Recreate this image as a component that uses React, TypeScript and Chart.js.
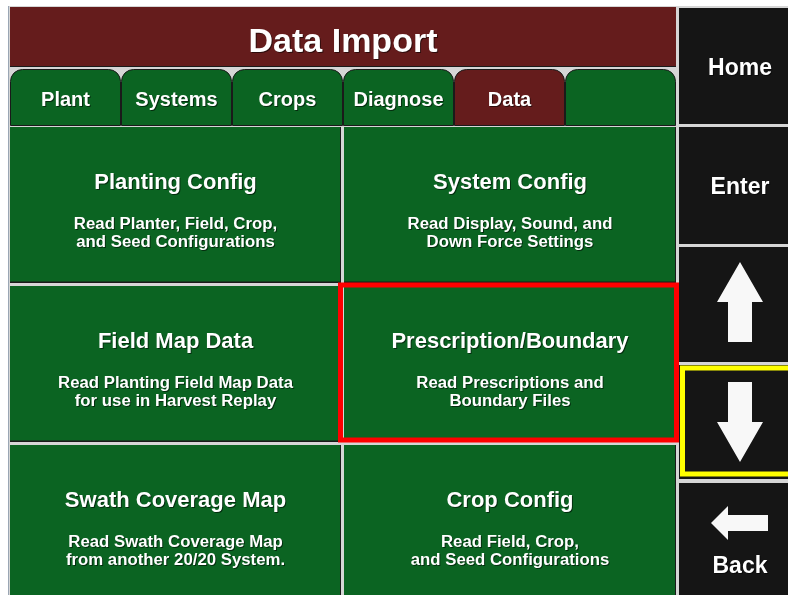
import React, { useEffect, useRef } from "react";
import { Chart, registerables } from "chart.js";

Chart.register(...registerables);

// ---- content ----
const TITLE = "Data Import";
const TABS = ["Plant", "Systems", "Crops", "Diagnose", "Data", ""];
const ACTIVE_TAB = 4;
const TILE_TITLES = [
  "Planting Config",
  "System Config",
  "Field Map Data",
  "Prescription/Boundary",
  "Swath Coverage Map",
  "Crop Config",
];
const TILE_LINE1 = [
  "Read Planter, Field, Crop,",
  "Read Display, Sound, and",
  "Read Planting Field Map Data",
  "Read Prescriptions and",
  "Read Swath Coverage Map",
  "Read Field, Crop,",
];
const TILE_LINE2 = [
  "and Seed Configurations",
  "Down Force Settings",
  "for use in Harvest Replay",
  "Boundary Files",
  "from another 20/20 System.",
  "and Seed Configurations",
];
const SELECTED_TILE = 3;
const SIDE_LABELS = ["Home", "Enter", "", "", "Back"];
const SIDE_ICONS = ["", "", "up", "down", "left"];
const FOCUSED_SIDE = 3;

// ---- style ----
const FONT = '"Liberation Sans", Arial, sans-serif';
const C_BG = "#d6d6d6";
const C_RED = "#651c1c";
const C_GREEN = "#0b6422";
const C_BLACK = "#151515";
const C_DARK = "#1a1a1a";

const uiPlugin = {
  id: "uiPanel",
  beforeDraw(chart: any) {
    const ctx: CanvasRenderingContext2D = chart.ctx;
    const sx = chart.scales.x;
    const sy = chart.scales.y;
    const X = (v: number) => sx.getPixelForValue(v);
    const Y = (v: number) => sy.getPixelForValue(v);
    const rect = (x0: number, y0: number, x1: number, y1: number, c: string) => {
      ctx.fillStyle = c;
      ctx.fillRect(X(x0), Y(y0), X(x1) - X(x0), Y(y1) - Y(y0));
    };
    // y is the baseline
    const text = (s: string, x: number, y: number, size: number) => {
      ctx.save();
      ctx.font = `bold ${size}px ${FONT}`;
      ctx.textAlign = "center";
      ctx.textBaseline = "alphabetic";
      ctx.shadowColor = "rgba(0,0,0,0.55)";
      ctx.shadowOffsetX = 1;
      ctx.shadowOffsetY = 1;
      ctx.shadowBlur = 0;
      ctx.fillStyle = "#ffffff";
      ctx.fillText(s, X(x), Y(y));
      ctx.restore();
    };

    ctx.save();
    rect(0, 0, 788, 595, "#ffffff");
    rect(8, 6, 788, 595, "#9aa6b4");
    rect(9, 6, 788, 595, C_BG);

    // title
    rect(10, 7, 676, 67, C_RED);
    ctx.strokeStyle = C_DARK;
    ctx.lineWidth = 1;
    ctx.beginPath();
    ctx.moveTo(X(10), Y(66.5));
    ctx.lineTo(X(676), Y(66.5));
    ctx.stroke();
    text(TITLE, 343, 52, 34);

    // tabs
    const tabW = (676 - 10) / TABS.length;
    const ty0 = 69, ty1 = 125.5, r = 12;
    TABS.forEach((t, i) => {
      const x0 = X(10 + i * tabW) + 0.5;
      const x1 = X(10 + (i + 1) * tabW) - 0.5;
      const y0 = Y(ty0) + 0.5;
      const y1 = Y(ty1);
      ctx.beginPath();
      ctx.moveTo(x0, y1);
      ctx.lineTo(x0, y0 + r);
      ctx.arcTo(x0, y0, x0 + r, y0, r);
      ctx.lineTo(x1 - r, y0);
      ctx.arcTo(x1, y0, x1, y0 + r, r);
      ctx.lineTo(x1, y1);
      ctx.closePath();
      ctx.fillStyle = i === ACTIVE_TAB ? C_RED : C_GREEN;
      ctx.fill();
      ctx.strokeStyle = C_DARK;
      ctx.lineWidth = 1;
      ctx.stroke();
      if (t) text(t, 10 + (i + 0.5) * tabW, 106, 20);
    });

    // tiles
    const cols = [[10, 341], [344, 676]];
    const rows = [[127, 283], [286, 442], [445, 600]];
    TILE_TITLES.forEach((t, i) => {
      const [x0, x1] = cols[i % 2];
      const [y0, y1] = rows[Math.floor(i / 2)];
      rect(x0, y0, x1, y1, C_GREEN);
      rect(x1 - 1, y0, x1, y1, C_DARK);
      rect(x0, y1 - 1.5, x1, y1, C_DARK);
      const cx = (x0 + x1) / 2;
      text(t, cx, y0 + 61.5, 22);
      text(TILE_LINE1[i], cx, y0 + 101.5, 16.8);
      text(TILE_LINE2[i], cx, y0 + 120, 16.8);
    });

    // side buttons
    const sideRows = [[8, 124], [127, 244], [247, 362], [365, 479], [483, 600]];
    const sx0 = 679, sx1 = 790;
    SIDE_LABELS.forEach((lab, i) => {
      const [y0, y1] = sideRows[i];
      rect(sx0, y0, sx1, y1, C_BLACK);
      const cx = 740;
      const icon = SIDE_ICONS[i];
      ctx.fillStyle = "#f8f8f8";
      if (icon === "up" || icon === "down") {
        const dir = icon === "up" ? 1 : -1;
        const tip = icon === "up" ? y0 + 15 : y1 - 17;
        const base = tip + dir * 40;
        const end = tip + dir * 80;
        ctx.beginPath();
        ctx.moveTo(X(cx), Y(tip));
        ctx.lineTo(X(cx + 23), Y(base));
        ctx.lineTo(X(cx + 12), Y(base));
        ctx.lineTo(X(cx + 12), Y(end));
        ctx.lineTo(X(cx - 12), Y(end));
        ctx.lineTo(X(cx - 12), Y(base));
        ctx.lineTo(X(cx - 23), Y(base));
        ctx.closePath();
        ctx.fill();
      } else if (icon === "left") {
        const cy = 523;
        ctx.beginPath();
        ctx.moveTo(X(711), Y(cy));
        ctx.lineTo(X(728), Y(cy - 17));
        ctx.lineTo(X(728), Y(cy - 8));
        ctx.lineTo(X(768), Y(cy - 8));
        ctx.lineTo(X(768), Y(cy + 8));
        ctx.lineTo(X(728), Y(cy + 8));
        ctx.lineTo(X(728), Y(cy + 17));
        ctx.closePath();
        ctx.fill();
        text(lab, cx, 573, 23);
      } else {
        text(lab, cx, i === 0 ? 75 : 194, 23);
      }
    });

    // focus on side button
    {
      const [y0, y1] = sideRows[FOCUSED_SIDE];
      ctx.strokeStyle = "#ffff00";
      ctx.lineWidth = 5;
      ctx.strokeRect(X(682.5), Y(y0 + 3), X(795) - X(682.5), Y(y1 - 5) - Y(y0 + 3));
    }
    // selection on tile
    {
      const [x0, x1] = cols[SELECTED_TILE % 2];
      const [y0, y1] = rows[Math.floor(SELECTED_TILE / 2)];
      ctx.strokeStyle = "#ff0000";
      ctx.lineWidth = 5;
      ctx.strokeRect(X(x0 - 3.5), Y(y0 - 1), X(x1 + 0.5) - X(x0 - 3.5), Y(y1 - 2) - Y(y0 - 1));
    }
    ctx.restore();
  },
};

export default function App() {
  const ref = useRef<HTMLCanvasElement | null>(null);
  useEffect(() => {
    if (!ref.current) return;
    const chart = new Chart(ref.current, {
      type: "scatter",
      data: { datasets: [{ data: [], pointRadius: 0 }] },
      options: {
        animation: false,
        responsive: false,
        devicePixelRatio: 1,
        layout: { padding: 0 },
        plugins: { legend: { display: false }, tooltip: { enabled: false } },
        scales: {
          x: { type: "linear", min: 0, max: 788, display: false },
          y: { type: "linear", min: 0, max: 595, reverse: true, display: false },
        },
      },
      plugins: [uiPlugin],
    });
    return () => chart.destroy();
  }, []);
  return (
    <div style={{ position: "fixed", left: 0, top: 0, width: 788, height: 595 }}>
      <canvas ref={ref} width={788} height={595} style={{ display: "block" }} />
    </div>
  );
}
